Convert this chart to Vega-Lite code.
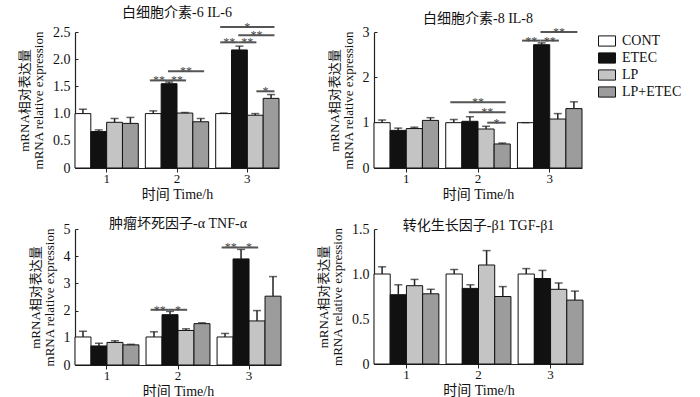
{
  "$schema": "https://vega.github.io/schema/vega-lite/v6.json",
  "padding": {"left": 18, "top": 6, "right": 2, "bottom": 0},
  "background": "white",
  "datasets": {
    "bars": [
      {"gene": "IL-6", "time": "1", "group": "CONT", "mean": 1.00, "upper": 1.08},
      {"gene": "IL-6", "time": "1", "group": "ETEC", "mean": 0.67, "upper": 0.70},
      {"gene": "IL-6", "time": "1", "group": "LP", "mean": 0.84, "upper": 0.91},
      {"gene": "IL-6", "time": "1", "group": "LP+ETEC", "mean": 0.82, "upper": 0.93},
      {"gene": "IL-6", "time": "2", "group": "CONT", "mean": 1.00, "upper": 1.05},
      {"gene": "IL-6", "time": "2", "group": "ETEC", "mean": 1.55, "upper": 1.58},
      {"gene": "IL-6", "time": "2", "group": "LP", "mean": 1.01, "upper": 1.02},
      {"gene": "IL-6", "time": "2", "group": "LP+ETEC", "mean": 0.85, "upper": 0.91},
      {"gene": "IL-6", "time": "3", "group": "CONT", "mean": 1.00, "upper": 1.01},
      {"gene": "IL-6", "time": "3", "group": "ETEC", "mean": 2.17, "upper": 2.24},
      {"gene": "IL-6", "time": "3", "group": "LP", "mean": 0.97, "upper": 1.00},
      {"gene": "IL-6", "time": "3", "group": "LP+ETEC", "mean": 1.28, "upper": 1.35},
      {"gene": "IL-8", "time": "1", "group": "CONT", "mean": 1.00, "upper": 1.06},
      {"gene": "IL-8", "time": "1", "group": "ETEC", "mean": 0.83, "upper": 0.88},
      {"gene": "IL-8", "time": "1", "group": "LP", "mean": 0.87, "upper": 0.90},
      {"gene": "IL-8", "time": "1", "group": "LP+ETEC", "mean": 1.05, "upper": 1.11},
      {"gene": "IL-8", "time": "2", "group": "CONT", "mean": 1.00, "upper": 1.07},
      {"gene": "IL-8", "time": "2", "group": "ETEC", "mean": 1.03, "upper": 1.13},
      {"gene": "IL-8", "time": "2", "group": "LP", "mean": 0.86, "upper": 0.92},
      {"gene": "IL-8", "time": "2", "group": "LP+ETEC", "mean": 0.53, "upper": 0.55},
      {"gene": "IL-8", "time": "3", "group": "CONT", "mean": 1.00, "upper": 1.00},
      {"gene": "IL-8", "time": "3", "group": "ETEC", "mean": 2.72, "upper": 2.76},
      {"gene": "IL-8", "time": "3", "group": "LP", "mean": 1.08, "upper": 1.20},
      {"gene": "IL-8", "time": "3", "group": "LP+ETEC", "mean": 1.31, "upper": 1.46},
      {"gene": "TNF", "time": "1", "group": "CONT", "mean": 1.03, "upper": 1.24},
      {"gene": "TNF", "time": "1", "group": "ETEC", "mean": 0.70, "upper": 0.80},
      {"gene": "TNF", "time": "1", "group": "LP", "mean": 0.83, "upper": 0.89},
      {"gene": "TNF", "time": "1", "group": "LP+ETEC", "mean": 0.74, "upper": 0.76},
      {"gene": "TNF", "time": "2", "group": "CONT", "mean": 1.03, "upper": 1.22},
      {"gene": "TNF", "time": "2", "group": "ETEC", "mean": 1.85, "upper": 1.97},
      {"gene": "TNF", "time": "2", "group": "LP", "mean": 1.27, "upper": 1.33},
      {"gene": "TNF", "time": "2", "group": "LP+ETEC", "mean": 1.52, "upper": 1.55},
      {"gene": "TNF", "time": "3", "group": "CONT", "mean": 1.03, "upper": 1.16},
      {"gene": "TNF", "time": "3", "group": "ETEC", "mean": 3.90, "upper": 4.25},
      {"gene": "TNF", "time": "3", "group": "LP", "mean": 1.62, "upper": 2.00},
      {"gene": "TNF", "time": "3", "group": "LP+ETEC", "mean": 2.53, "upper": 3.25},
      {"gene": "TGF", "time": "1", "group": "CONT", "mean": 1.00, "upper": 1.08},
      {"gene": "TGF", "time": "1", "group": "ETEC", "mean": 0.77, "upper": 0.88},
      {"gene": "TGF", "time": "1", "group": "LP", "mean": 0.87, "upper": 0.94},
      {"gene": "TGF", "time": "1", "group": "LP+ETEC", "mean": 0.78, "upper": 0.83},
      {"gene": "TGF", "time": "2", "group": "CONT", "mean": 1.00, "upper": 1.05},
      {"gene": "TGF", "time": "2", "group": "ETEC", "mean": 0.84, "upper": 0.88},
      {"gene": "TGF", "time": "2", "group": "LP", "mean": 1.10, "upper": 1.26},
      {"gene": "TGF", "time": "2", "group": "LP+ETEC", "mean": 0.75, "upper": 0.86},
      {"gene": "TGF", "time": "3", "group": "CONT", "mean": 1.00, "upper": 1.06},
      {"gene": "TGF", "time": "3", "group": "ETEC", "mean": 0.95, "upper": 1.04},
      {"gene": "TGF", "time": "3", "group": "LP", "mean": 0.83, "upper": 0.90},
      {"gene": "TGF", "time": "3", "group": "LP+ETEC", "mean": 0.71, "upper": 0.81}
    ],
    "sig": [
      {"gene": "IL-6", "id": "a1", "time": "2", "pos": "CONT", "y": 1.61},
      {"gene": "IL-6", "id": "a1", "time": "2", "pos": "ETEC", "y": 1.61},
      {"gene": "IL-6", "id": "a2", "time": "2", "pos": "ETEC", "y": 1.61},
      {"gene": "IL-6", "id": "a2", "time": "2", "pos": "LP", "y": 1.61},
      {"gene": "IL-6", "id": "a3", "time": "2", "pos": "ETEC", "y": 1.78},
      {"gene": "IL-6", "id": "a3", "time": "2", "pos": "LP+ETEC", "y": 1.78},
      {"gene": "IL-6", "id": "a4", "time": "3", "pos": "CONT", "y": 2.31},
      {"gene": "IL-6", "id": "a4", "time": "3", "pos": "ETEC", "y": 2.31},
      {"gene": "IL-6", "id": "a5", "time": "3", "pos": "ETEC", "y": 2.31},
      {"gene": "IL-6", "id": "a5", "time": "3", "pos": "LP", "y": 2.31},
      {"gene": "IL-6", "id": "a6", "time": "3", "pos": "ETEC", "y": 2.44},
      {"gene": "IL-6", "id": "a6", "time": "3", "pos": "LP+ETEC", "y": 2.44},
      {"gene": "IL-6", "id": "a7", "time": "3", "pos": "CONT", "y": 2.59},
      {"gene": "IL-6", "id": "a7", "time": "3", "pos": "LP+ETEC", "y": 2.59},
      {"gene": "IL-6", "id": "a8", "time": "3", "pos": "LP", "y": 1.41},
      {"gene": "IL-6", "id": "a8", "time": "3", "pos": "LP+ETEC", "y": 1.41},
      {"gene": "IL-8", "id": "b1", "time": "2", "pos": "CONT", "y": 1.45},
      {"gene": "IL-8", "id": "b1", "time": "2", "pos": "LP+ETEC", "y": 1.45},
      {"gene": "IL-8", "id": "b2", "time": "2", "pos": "ETEC", "y": 1.23},
      {"gene": "IL-8", "id": "b2", "time": "2", "pos": "LP+ETEC", "y": 1.23},
      {"gene": "IL-8", "id": "b3", "time": "2", "pos": "LP", "y": 1.00},
      {"gene": "IL-8", "id": "b3", "time": "2", "pos": "LP+ETEC", "y": 1.00},
      {"gene": "IL-8", "id": "b4", "time": "3", "pos": "CONT", "y": 2.81},
      {"gene": "IL-8", "id": "b4", "time": "3", "pos": "ETEC", "y": 2.81},
      {"gene": "IL-8", "id": "b5", "time": "3", "pos": "ETEC", "y": 2.81},
      {"gene": "IL-8", "id": "b5", "time": "3", "pos": "LP", "y": 2.81},
      {"gene": "IL-8", "id": "b6", "time": "3", "pos": "ETEC", "y": 3.0},
      {"gene": "IL-8", "id": "b6", "time": "3", "pos": "LP+ETEC", "y": 3.0},
      {"gene": "TNF", "id": "c1", "time": "2", "pos": "CONT", "y": 2.03},
      {"gene": "TNF", "id": "c1", "time": "2", "pos": "ETEC", "y": 2.03},
      {"gene": "TNF", "id": "c2", "time": "2", "pos": "ETEC", "y": 2.03},
      {"gene": "TNF", "id": "c2", "time": "2", "pos": "LP", "y": 2.03},
      {"gene": "TNF", "id": "c3", "time": "3", "pos": "CONT", "y": 4.32},
      {"gene": "TNF", "id": "c3", "time": "3", "pos": "ETEC", "y": 4.32},
      {"gene": "TNF", "id": "c4", "time": "3", "pos": "ETEC", "y": 4.32},
      {"gene": "TNF", "id": "c4", "time": "3", "pos": "LP", "y": 4.32}
    ],
    "stars": [
      {"gene": "IL-6", "time": "2", "mid": "CONT|ETEC", "y": 1.61, "label": "**"},
      {"gene": "IL-6", "time": "2", "mid": "ETEC|LP", "y": 1.61, "label": "**"},
      {"gene": "IL-6", "time": "2", "mid": "LP", "y": 1.78, "label": "**"},
      {"gene": "IL-6", "time": "3", "mid": "CONT|ETEC", "y": 2.31, "label": "**"},
      {"gene": "IL-6", "time": "3", "mid": "ETEC|LP", "y": 2.31, "label": "**"},
      {"gene": "IL-6", "time": "3", "mid": "LP", "y": 2.44, "label": "**"},
      {"gene": "IL-6", "time": "3", "mid": "ETEC|LP", "y": 2.59, "label": "*"},
      {"gene": "IL-6", "time": "3", "mid": "LP|LP+ETEC", "y": 1.41, "label": "*"},
      {"gene": "IL-8", "time": "2", "mid": "ETEC|LP", "y": 1.45, "label": "**"},
      {"gene": "IL-8", "time": "2", "mid": "LP", "y": 1.23, "label": "**"},
      {"gene": "IL-8", "time": "2", "mid": "LP|LP+ETEC", "y": 1.00, "label": "*"},
      {"gene": "IL-8", "time": "3", "mid": "CONT|ETEC", "y": 2.81, "label": "**"},
      {"gene": "IL-8", "time": "3", "mid": "ETEC|LP", "y": 2.81, "label": "**"},
      {"gene": "IL-8", "time": "3", "mid": "LP", "y": 3.0, "label": "**"},
      {"gene": "TNF", "time": "2", "mid": "CONT|ETEC", "y": 2.03, "label": "**"},
      {"gene": "TNF", "time": "2", "mid": "ETEC|LP", "y": 2.03, "label": "*"},
      {"gene": "TNF", "time": "3", "mid": "CONT|ETEC", "y": 4.32, "label": "**"},
      {"gene": "TNF", "time": "3", "mid": "ETEC|LP", "y": 4.32, "label": "*"}
    ]
  },
  "columns": 2,
  "spacing": {"column": 35, "row": 16},
  "concat": [
    {
      "width": 204, "height": 136,
      "title": {"text": "白细胞介素-6 IL-6", "offset": 1},
      "layer": [
        {
          "data": {"name": "bars"},
          "transform": [{"filter": "datum.gene === 'IL-6'"}],
          "encoding": {
            "x": {"field": "time", "type": "nominal", "scale": {"type": "band", "paddingInner": 0.1, "paddingOuter": 0}, "title": "时间  Time/h"},
            "xOffset": {"field": "group", "type": "nominal", "scale": {"domain": ["CONT", "ETEC", "LP", "LP+ETEC"], "paddingInner": 0, "paddingOuter": 0}}
          },
          "layer": [
            {"mark": {"type": "bar", "stroke": "#111", "strokeWidth": 1}, "encoding": {
              "y": {"field": "mean", "type": "quantitative", "scale": {"domain": [0, 2.5], "nice": false}, "title": ["mRNA相对表达量", "mRNA relative expression"], "axis": {"values": [0, 0.5, 1, 1.5, 2, 2.5], "labelExpr": "datum.value === 0 ? '0' : format(datum.value, '.1f')"}},
              "color": {"field": "group", "type": "nominal", "scale": {"domain": ["CONT", "ETEC", "LP", "LP+ETEC"], "range": ["#ffffff", "#111111", "#c4c4c4", "#9c9c9c"]}, "legend": {"title": null}}}},
            {"mark": {"type": "rule", "strokeWidth": 1.5, "color": "#222"}, "encoding": {"y": {"field": "mean", "type": "quantitative", "title": ["mRNA相对表达量", "mRNA relative expression"], "axis": {"values": [0, 0.5, 1, 1.5, 2, 2.5], "labelExpr": "datum.value === 0 ? '0' : format(datum.value, '.1f')"}}, "y2": {"field": "upper"}}},
            {"mark": {"type": "tick", "thickness": 1.5, "size": 8, "color": "#222"}, "encoding": {"y": {"field": "upper", "type": "quantitative", "title": ["mRNA相对表达量", "mRNA relative expression"], "axis": {"values": [0, 0.5, 1, 1.5, 2, 2.5], "labelExpr": "datum.value === 0 ? '0' : format(datum.value, '.1f')"}}}}
          ]
        },
        {
          "data": {"name": "sig"},
          "transform": [{"filter": "datum.gene === 'IL-6'"}],
          "mark": {"type": "line", "color": "#555", "strokeWidth": 2},
          "encoding": {
            "x": {"field": "time", "type": "nominal", "scale": {"type": "band", "paddingInner": 0.1, "paddingOuter": 0}, "title": "时间  Time/h"},
            "xOffset": {"field": "pos", "type": "nominal", "scale": {"domain": ["CONT", "CONT|ETEC", "ETEC", "ETEC|LP", "LP", "LP|LP+ETEC", "LP+ETEC"], "paddingInner": 0, "paddingOuter": 0.5}},
            "y": {"field": "y", "type": "quantitative", "title": ["mRNA相对表达量", "mRNA relative expression"], "axis": {"values": [0, 0.5, 1, 1.5, 2, 2.5], "labelExpr": "datum.value === 0 ? '0' : format(datum.value, '.1f')"}},
            "detail": {"field": "id"}
          }
        },
        {
          "data": {"name": "stars"},
          "transform": [{"filter": "datum.gene === 'IL-6'"}],
          "mark": {"type": "text", "color": "#444", "fontSize": 12, "baseline": "alphabetic", "dy": 4},
          "encoding": {
            "x": {"field": "time", "type": "nominal", "scale": {"type": "band", "paddingInner": 0.1, "paddingOuter": 0}, "title": "时间  Time/h"},
            "xOffset": {"field": "mid", "type": "nominal", "scale": {"domain": ["CONT", "CONT|ETEC", "ETEC", "ETEC|LP", "LP", "LP|LP+ETEC", "LP+ETEC"], "paddingInner": 0, "paddingOuter": 0.5}},
            "y": {"field": "y", "type": "quantitative", "title": ["mRNA相对表达量", "mRNA relative expression"], "axis": {"values": [0, 0.5, 1, 1.5, 2, 2.5], "labelExpr": "datum.value === 0 ? '0' : format(datum.value, '.1f')"}},
            "text": {"field": "label"}
          }
        }
      ],
      "resolve": {"scale": {"xOffset": "independent"}}
    },
    {
      "width": 208, "height": 136,
      "title": {"text": "白细胞介素-8 IL-8", "offset": -1},
      "layer": [
        {
          "data": {"name": "bars"},
          "transform": [{"filter": "datum.gene === 'IL-8'"}],
          "encoding": {
            "x": {"field": "time", "type": "nominal", "scale": {"type": "band", "paddingInner": 0.1, "paddingOuter": 0}, "title": "时间  Time/h"},
            "xOffset": {"field": "group", "type": "nominal", "scale": {"domain": ["CONT", "ETEC", "LP", "LP+ETEC"], "paddingInner": 0, "paddingOuter": 0}}
          },
          "layer": [
            {"mark": {"type": "bar", "stroke": "#111", "strokeWidth": 1}, "encoding": {
              "y": {"field": "mean", "type": "quantitative", "scale": {"domain": [0, 3], "nice": false}, "title": ["mRNA相对表达量", "mRNA relative expression"], "axis": {"values": [0, 1, 2, 3], "format": "d"}},
              "color": {"field": "group", "type": "nominal", "scale": {"domain": ["CONT", "ETEC", "LP", "LP+ETEC"], "range": ["#ffffff", "#111111", "#c4c4c4", "#9c9c9c"]}, "legend": {"title": null}}}},
            {"mark": {"type": "rule", "strokeWidth": 1.5, "color": "#222"}, "encoding": {"y": {"field": "mean", "type": "quantitative", "title": ["mRNA相对表达量", "mRNA relative expression"], "axis": {"values": [0, 1, 2, 3], "format": "d"}}, "y2": {"field": "upper"}}},
            {"mark": {"type": "tick", "thickness": 1.5, "size": 8, "color": "#222"}, "encoding": {"y": {"field": "upper", "type": "quantitative", "title": ["mRNA相对表达量", "mRNA relative expression"], "axis": {"values": [0, 1, 2, 3], "format": "d"}}}}
          ]
        },
        {
          "data": {"name": "sig"},
          "transform": [{"filter": "datum.gene === 'IL-8'"}],
          "mark": {"type": "line", "color": "#555", "strokeWidth": 2},
          "encoding": {
            "x": {"field": "time", "type": "nominal", "scale": {"type": "band", "paddingInner": 0.1, "paddingOuter": 0}, "title": "时间  Time/h"},
            "xOffset": {"field": "pos", "type": "nominal", "scale": {"domain": ["CONT", "CONT|ETEC", "ETEC", "ETEC|LP", "LP", "LP|LP+ETEC", "LP+ETEC"], "paddingInner": 0, "paddingOuter": 0.5}},
            "y": {"field": "y", "type": "quantitative", "title": ["mRNA相对表达量", "mRNA relative expression"], "axis": {"values": [0, 1, 2, 3], "format": "d"}},
            "detail": {"field": "id"}
          }
        },
        {
          "data": {"name": "stars"},
          "transform": [{"filter": "datum.gene === 'IL-8'"}],
          "mark": {"type": "text", "color": "#444", "fontSize": 12, "baseline": "alphabetic", "dy": 4},
          "encoding": {
            "x": {"field": "time", "type": "nominal", "scale": {"type": "band", "paddingInner": 0.1, "paddingOuter": 0}, "title": "时间  Time/h"},
            "xOffset": {"field": "mid", "type": "nominal", "scale": {"domain": ["CONT", "CONT|ETEC", "ETEC", "ETEC|LP", "LP", "LP|LP+ETEC", "LP+ETEC"], "paddingInner": 0, "paddingOuter": 0.5}},
            "y": {"field": "y", "type": "quantitative", "title": ["mRNA相对表达量", "mRNA relative expression"], "axis": {"values": [0, 1, 2, 3], "format": "d"}},
            "text": {"field": "label"}
          }
        }
      ],
      "resolve": {"scale": {"xOffset": "independent"}}
    },
    {
      "width": 206, "height": 136,
      "title": {"text": "肿瘤坏死因子-α TNF-α", "offset": -9},
      "layer": [
        {
          "data": {"name": "bars"},
          "transform": [{"filter": "datum.gene === 'TNF'"}],
          "encoding": {
            "x": {"field": "time", "type": "nominal", "scale": {"type": "band", "paddingInner": 0.1, "paddingOuter": 0}, "title": "时间  Time/h"},
            "xOffset": {"field": "group", "type": "nominal", "scale": {"domain": ["CONT", "ETEC", "LP", "LP+ETEC"], "paddingInner": 0, "paddingOuter": 0}}
          },
          "layer": [
            {"mark": {"type": "bar", "stroke": "#111", "strokeWidth": 1}, "encoding": {
              "y": {"field": "mean", "type": "quantitative", "scale": {"domain": [0, 5], "nice": false}, "title": ["mRNA相对表达量", "mRNA relative expression"], "axis": {"values": [0, 1, 2, 3, 4, 5], "format": "d"}},
              "color": {"field": "group", "type": "nominal", "scale": {"domain": ["CONT", "ETEC", "LP", "LP+ETEC"], "range": ["#ffffff", "#111111", "#c4c4c4", "#9c9c9c"]}, "legend": {"title": null}}}},
            {"mark": {"type": "rule", "strokeWidth": 1.5, "color": "#222"}, "encoding": {"y": {"field": "mean", "type": "quantitative", "title": ["mRNA相对表达量", "mRNA relative expression"], "axis": {"values": [0, 1, 2, 3, 4, 5], "format": "d"}}, "y2": {"field": "upper"}}},
            {"mark": {"type": "tick", "thickness": 1.5, "size": 8, "color": "#222"}, "encoding": {"y": {"field": "upper", "type": "quantitative", "title": ["mRNA相对表达量", "mRNA relative expression"], "axis": {"values": [0, 1, 2, 3, 4, 5], "format": "d"}}}}
          ]
        },
        {
          "data": {"name": "sig"},
          "transform": [{"filter": "datum.gene === 'TNF'"}],
          "mark": {"type": "line", "color": "#555", "strokeWidth": 2},
          "encoding": {
            "x": {"field": "time", "type": "nominal", "scale": {"type": "band", "paddingInner": 0.1, "paddingOuter": 0}, "title": "时间  Time/h"},
            "xOffset": {"field": "pos", "type": "nominal", "scale": {"domain": ["CONT", "CONT|ETEC", "ETEC", "ETEC|LP", "LP", "LP|LP+ETEC", "LP+ETEC"], "paddingInner": 0, "paddingOuter": 0.5}},
            "y": {"field": "y", "type": "quantitative", "title": ["mRNA相对表达量", "mRNA relative expression"], "axis": {"values": [0, 1, 2, 3, 4, 5], "format": "d"}},
            "detail": {"field": "id"}
          }
        },
        {
          "data": {"name": "stars"},
          "transform": [{"filter": "datum.gene === 'TNF'"}],
          "mark": {"type": "text", "color": "#444", "fontSize": 12, "baseline": "alphabetic", "dy": 4},
          "encoding": {
            "x": {"field": "time", "type": "nominal", "scale": {"type": "band", "paddingInner": 0.1, "paddingOuter": 0}, "title": "时间  Time/h"},
            "xOffset": {"field": "mid", "type": "nominal", "scale": {"domain": ["CONT", "CONT|ETEC", "ETEC", "ETEC|LP", "LP", "LP|LP+ETEC", "LP+ETEC"], "paddingInner": 0, "paddingOuter": 0.5}},
            "y": {"field": "y", "type": "quantitative", "title": ["mRNA相对表达量", "mRNA relative expression"], "axis": {"values": [0, 1, 2, 3, 4, 5], "format": "d"}},
            "text": {"field": "label"}
          }
        }
      ],
      "resolve": {"scale": {"xOffset": "independent"}}
    },
    {
      "width": 209, "height": 135,
      "title": {"text": "转化生长因子-β1 TGF-β1", "offset": -11},
      "data": {"name": "bars"},
      "transform": [{"filter": "datum.gene === 'TGF'"}],
      "encoding": {
        "x": {"field": "time", "type": "nominal", "scale": {"type": "band", "paddingInner": 0.1, "paddingOuter": 0}, "title": "时间  Time/h"},
        "xOffset": {"field": "group", "type": "nominal", "scale": {"domain": ["CONT", "ETEC", "LP", "LP+ETEC"], "paddingInner": 0, "paddingOuter": 0}}
      },
      "layer": [
        {"mark": {"type": "bar", "stroke": "#111", "strokeWidth": 1}, "encoding": {
          "y": {"field": "mean", "type": "quantitative", "scale": {"domain": [0, 1.5], "nice": false}, "title": ["mRNA相对表达量", "mRNA relative expression"], "axis": {"values": [0, 0.5, 1, 1.5], "labelExpr": "datum.value === 0 ? '0' : format(datum.value, '.1f')"}},
          "color": {"field": "group", "type": "nominal", "scale": {"domain": ["CONT", "ETEC", "LP", "LP+ETEC"], "range": ["#ffffff", "#111111", "#c4c4c4", "#9c9c9c"]}, "legend": {"title": null}}}},
        {"mark": {"type": "rule", "strokeWidth": 1.5, "color": "#222"}, "encoding": {"y": {"field": "mean", "type": "quantitative", "title": ["mRNA相对表达量", "mRNA relative expression"], "axis": {"values": [0, 0.5, 1, 1.5], "labelExpr": "datum.value === 0 ? '0' : format(datum.value, '.1f')"}}, "y2": {"field": "upper"}}},
        {"mark": {"type": "tick", "thickness": 1.5, "size": 8, "color": "#222"}, "encoding": {"y": {"field": "upper", "type": "quantitative", "title": ["mRNA相对表达量", "mRNA relative expression"], "axis": {"values": [0, 0.5, 1, 1.5], "labelExpr": "datum.value === 0 ? '0' : format(datum.value, '.1f')"}}}}
      ]
    }
  ],
  "config": {
    "view": {"stroke": null},
    "font": "'Liberation Serif', 'Noto Sans CJK SC', serif",
    "axis": {"grid": false, "domainColor": "#222", "domainWidth": 1.2, "tickColor": "#222", "labelColor": "#111", "titleColor": "#111", "labelFont": "'Liberation Serif', serif", "titleFont": "'Liberation Serif', 'Noto Sans CJK SC', serif", "labelFontSize": 14, "titleFontSize": 13, "titleFontWeight": "normal"},
    "axisX": {"labelAngle": 0, "tickSize": 4, "titlePadding": 2, "labelPadding": 0, "labelFontSize": 13, "titleFontSize": 14},
    "axisY": {"tickSize": -3, "labelPadding": 8, "titleFontSize": 13, "titleLineHeight": 14, "titlePadding": 7},
    "title": {"font": "'Liberation Serif', 'Noto Sans CJK SC', serif", "fontSize": 14, "fontWeight": "normal", "color": "#111", "frame": "group"},
    "legend": {"orient": "right", "offset": 14, "labelFont": "'Liberation Serif', serif", "labelFontSize": 14, "labelColor": "#111", "symbolType": "M-1,-0.6H1V0.6H-1Z", "symbolSize": 289, "symbolStrokeColor": "#111", "symbolStrokeWidth": 1, "rowPadding": 0, "labelOffset": 6}
  }
}
